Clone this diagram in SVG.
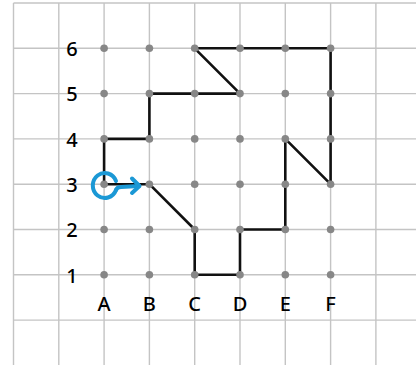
<svg xmlns="http://www.w3.org/2000/svg" width="416" height="365" viewBox="0 0 416 365">
<style>
.grid line{stroke:#c4c4c4;stroke-width:1.4}
.lbl{font-family:"Noto Sans","Open Sans",sans-serif;font-size:20px;font-weight:500;fill:#000;text-anchor:middle}
.dot{fill:#878787}
.path{fill:none;stroke:#111;stroke-width:2.6;stroke-linejoin:round;stroke-linecap:round}
.blue{fill:none;stroke:#1b98d5;stroke-width:4;stroke-linecap:round;stroke-linejoin:round}
</style>
<rect width="416" height="365" fill="#fff"/>
<g class="grid" id="grid">
<line x1="13.5" y1="3" x2="13.5" y2="365"/>
<line x1="58.8" y1="3" x2="58.8" y2="365"/>
<line x1="104.1" y1="3" x2="104.1" y2="365"/>
<line x1="149.4" y1="3" x2="149.4" y2="365"/>
<line x1="194.7" y1="3" x2="194.7" y2="365"/>
<line x1="240" y1="3" x2="240" y2="365"/>
<line x1="285.3" y1="3" x2="285.3" y2="365"/>
<line x1="330.6" y1="3" x2="330.6" y2="365"/>
<line x1="375.9" y1="3" x2="375.9" y2="365"/>
<line x1="13.5" y1="3" x2="416" y2="3"/>
<line x1="13.5" y1="48.3" x2="416" y2="48.3"/>
<line x1="13.5" y1="93.6" x2="416" y2="93.6"/>
<line x1="13.5" y1="138.9" x2="416" y2="138.9"/>
<line x1="13.5" y1="184.2" x2="416" y2="184.2"/>
<line x1="13.5" y1="229.5" x2="416" y2="229.5"/>
<line x1="13.5" y1="274.8" x2="416" y2="274.8"/>
<line x1="13.5" y1="320.1" x2="416" y2="320.1"/>
</g>
<g id="connectors">
<path class="path" d="M104.1 184.2 L104.1 138.9 L149.4 138.9 L149.4 93.6 L240 93.6 L194.7 48.3 L330.6 48.3 L330.6 184.2 L285.3 138.9 L285.3 229.5 L240 229.5 L240 274.8 L194.7 274.8 L194.7 229.5 L149.4 184.2 L104.1 184.2"/>
</g>
<g id="dots">
<circle class="dot" cx="104.1" cy="48.3" r="3.8"/><circle class="dot" cx="149.4" cy="48.3" r="3.8"/><circle class="dot" cx="194.7" cy="48.3" r="3.8"/><circle class="dot" cx="240" cy="48.3" r="3.8"/><circle class="dot" cx="285.3" cy="48.3" r="3.8"/><circle class="dot" cx="330.6" cy="48.3" r="3.8"/>
<circle class="dot" cx="104.1" cy="93.6" r="3.8"/><circle class="dot" cx="149.4" cy="93.6" r="3.8"/><circle class="dot" cx="194.7" cy="93.6" r="3.8"/><circle class="dot" cx="240" cy="93.6" r="3.8"/><circle class="dot" cx="285.3" cy="93.6" r="3.8"/><circle class="dot" cx="330.6" cy="93.6" r="3.8"/>
<circle class="dot" cx="104.1" cy="138.9" r="3.8"/><circle class="dot" cx="149.4" cy="138.9" r="3.8"/><circle class="dot" cx="194.7" cy="138.9" r="3.8"/><circle class="dot" cx="240" cy="138.9" r="3.8"/><circle class="dot" cx="285.3" cy="138.9" r="3.8"/><circle class="dot" cx="330.6" cy="138.9" r="3.8"/>
<circle class="dot" cx="104.1" cy="184.2" r="3.8"/><circle class="dot" cx="149.4" cy="184.2" r="3.8"/><circle class="dot" cx="194.7" cy="184.2" r="3.8"/><circle class="dot" cx="240" cy="184.2" r="3.8"/><circle class="dot" cx="285.3" cy="184.2" r="3.8"/><circle class="dot" cx="330.6" cy="184.2" r="3.8"/>
<circle class="dot" cx="104.1" cy="229.5" r="3.8"/><circle class="dot" cx="149.4" cy="229.5" r="3.8"/><circle class="dot" cx="194.7" cy="229.5" r="3.8"/><circle class="dot" cx="240" cy="229.5" r="3.8"/><circle class="dot" cx="285.3" cy="229.5" r="3.8"/><circle class="dot" cx="330.6" cy="229.5" r="3.8"/>
<circle class="dot" cx="104.1" cy="274.8" r="3.8"/><circle class="dot" cx="149.4" cy="274.8" r="3.8"/><circle class="dot" cx="194.7" cy="274.8" r="3.8"/><circle class="dot" cx="240" cy="274.8" r="3.8"/><circle class="dot" cx="285.3" cy="274.8" r="3.8"/><circle class="dot" cx="330.6" cy="274.8" r="3.8"/>
</g>
<g id="start-marker">
<path class="blue" d="M116 190 A12 12.5 0 1 1 116 181"/>
<path class="blue" d="M116 190 Q117 187 121 187 L139 186"/>
<path class="blue" d="M132 178.5 L139.5 186 L132 193"/>
</g>
<g id="labels">
<text class="lbl" x="72" y="56">6</text>
<text class="lbl" x="72" y="101.3">5</text>
<text class="lbl" x="72" y="146.6">4</text>
<text class="lbl" x="72" y="191.9">3</text>
<text class="lbl" x="72" y="237.2">2</text>
<text class="lbl" x="72" y="282.5">1</text>
<text class="lbl" x="104.1" y="311">A</text>
<text class="lbl" x="149.4" y="311">B</text>
<text class="lbl" x="194.7" y="311">C</text>
<text class="lbl" x="240" y="311">D</text>
<text class="lbl" x="285.3" y="311">E</text>
<text class="lbl" x="330.6" y="311">F</text>
</g>
</svg>
